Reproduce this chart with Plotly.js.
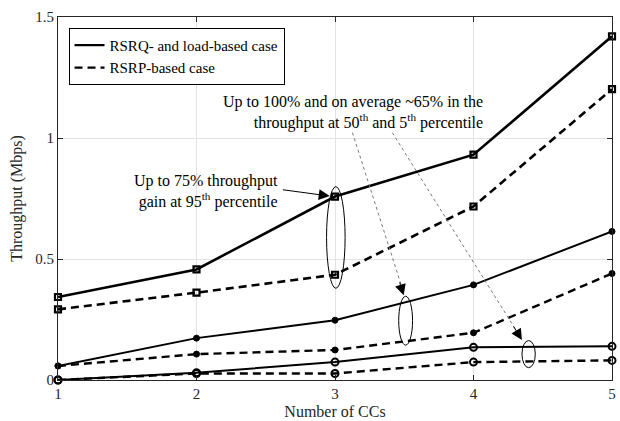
<!DOCTYPE html>
<html>
<head>
<meta charset="utf-8">
<script src="https://cdn.plot.ly/plotly-3.0.1.min.js"></script>
<style>html,body{margin:0;padding:0;background:#fff;}#chart{width:620px;height:421px;}</style>
</head>
<body>
<div id="chart"></div>
<script>
var numCCs = [1, 2, 3, 4, 5];
var rsrq95 = [0.343, 0.457, 0.758, 0.931, 1.42];
var rsrp95 = [0.292, 0.361, 0.435, 0.717, 1.202];
var rsrq50 = [0.058, 0.173, 0.247, 0.393, 0.614];
var rsrp50 = [0.058, 0.107, 0.124, 0.195, 0.44];
var rsrq5 = [0.0, 0.030, 0.074, 0.135, 0.139];
var rsrp5 = [0.0, 0.027, 0.027, 0.074, 0.081];
var yTicks = [0, 0.5, 1, 1.5];
var yTickText = ['0', '0.5', '1', '1.5'];
var xTicks = [1, 2, 3, 4, 5];
var legendNames = ['RSRQ- and load-based case', 'RSRP-based case'];

var FONT = 'Liberation Serif, Times New Roman, serif';
var DASH = '8px,5px';

function series(y, dash, width, symbol, msize, mlw) {
  return {
    x: numCCs, y: y, type: 'scatter', mode: 'lines+markers', showlegend: false,
    cliponaxis: false,
    line: {color: '#000', width: width, dash: dash},
    marker: {symbol: symbol, size: msize, color: '#000', line: {color: '#000', width: mlw}}
  };
}

var traces = [
  series(rsrq95, 'solid', 2.6, 'square-open', 6, 2.2),
  series(rsrp95, DASH, 2.6, 'square-open', 6, 2.2),
  series(rsrq50, 'solid', 2, 'circle', 6, 1),
  series(rsrp50, DASH, 2.4, 'circle', 6, 1),
  series(rsrq5, 'solid', 2, 'circle-open', 7, 2),
  series(rsrp5, DASH, 2.4, 'circle-open', 7, 2),
  {x: [null], y: [null], type: 'scatter', mode: 'lines', name: legendNames[0], line: {color: '#000', width: 2.4}},
  {x: [null], y: [null], type: 'scatter', mode: 'lines', name: legendNames[1], line: {color: '#000', width: 2.4, dash: DASH}}
];

function ellipse(x0, x1, y0, y1) {
  return {type: 'circle', xref: 'x', yref: 'y', x0: x0, x1: x1, y0: y0, y1: y1,
          line: {color: '#000', width: 1}};
}
function dotted(x0, y0, x1, y1) {
  return {type: 'line', xref: 'x', yref: 'y', x0: x0, y0: y0, x1: x1, y1: y1,
          line: {color: '#777', width: 1, dash: 'dot'}};
}

var layout = {
  width: 620, height: 421,
  margin: {l: 57.5, r: 8, t: 17, b: 41, pad: 0},
  paper_bgcolor: '#fff', plot_bgcolor: '#fff',
  font: {family: FONT, size: 15, color: '#000'},
  showlegend: true,
  legend: {x: 0.019, y: 0.97, xanchor: 'left', yanchor: 'top',
           bgcolor: '#fff', bordercolor: '#000', borderwidth: 1,
           font: {family: FONT, size: 15, color: '#000'}, tracegroupgap: 0},
  xaxis: {
    range: [1, 5], tickvals: xTicks, ticks: 'inside', ticklen: 5, tickcolor: '#262626',
    showline: true, linecolor: '#262626', linewidth: 1, mirror: 'ticks',
    showgrid: true, gridcolor: '#e3e3e3', zeroline: false,
    tickfont: {family: FONT, size: 15, color: '#262626'},
    title: {text: 'Number of CCs', font: {family: FONT, size: 16, color: '#262626'}, standoff: 4}
  },
  yaxis: {
    range: [0, 1.5], tickvals: yTicks, ticktext: yTickText, ticks: 'inside', ticklen: 5, tickcolor: '#262626',
    showline: true, linecolor: '#262626', linewidth: 1, mirror: 'ticks',
    showgrid: true, gridcolor: '#e3e3e3', zeroline: false,
    tickfont: {family: FONT, size: 15, color: '#262626'},
    title: {text: 'Throughput (Mbps)', font: {family: FONT, size: 16, color: '#262626'}, standoff: 8}
  },
  shapes: [
    ellipse(2.939, 3.073, 0.379, 0.799),
    ellipse(3.46, 3.56, 0.144, 0.346),
    ellipse(4.35, 4.446, 0.051, 0.163),
    dotted(3.126, 1.022, 3.485, 0.38),
    dotted(3.414, 1.022, 4.33, 0.185)
  ],
  annotations: [
    {x: 4.082, y: 1.104, xref: 'x', yref: 'y', xanchor: 'right', yanchor: 'middle', align: 'right',
     showarrow: false,
     text: 'Up to 100% and on average ~65% in the<br>throughput at 50<sup>th</sup> and 5<sup>th</sup> percentile',
     font: {family: FONT, size: 16, color: '#000'}},
    {x: 2.606, y: 0.779, xref: 'x', yref: 'y', xanchor: 'right', yanchor: 'middle', align: 'right',
     showarrow: false,
     text: 'Up to 75% throughput<br>gain at 95<sup>th</sup> percentile',
     font: {family: FONT, size: 16, color: '#000'}},
    {x: 2.962, y: 0.760, ax: 2.613, ay: 0.787, xref: 'x', yref: 'y', axref: 'x', ayref: 'y',
     text: '', showarrow: true, arrowhead: 2, arrowsize: 2.2, arrowwidth: 1, arrowcolor: '#000'},
    {x: 3.496, y: 0.350, ax: -4.5, ay: -14.3, xref: 'x', yref: 'y',
     text: '', showarrow: true, arrowhead: 2, arrowsize: 2.2, arrowwidth: 1, arrowcolor: '#000'},
    {x: 4.35, y: 0.165, ax: -9.3, ay: -15, xref: 'x', yref: 'y',
     text: '', showarrow: true, arrowhead: 2, arrowsize: 2.2, arrowwidth: 1, arrowcolor: '#000'}
  ]
};

Plotly.newPlot('chart', traces, layout, {displayModeBar: false, staticPlot: true});
</script>
</body>
</html>
